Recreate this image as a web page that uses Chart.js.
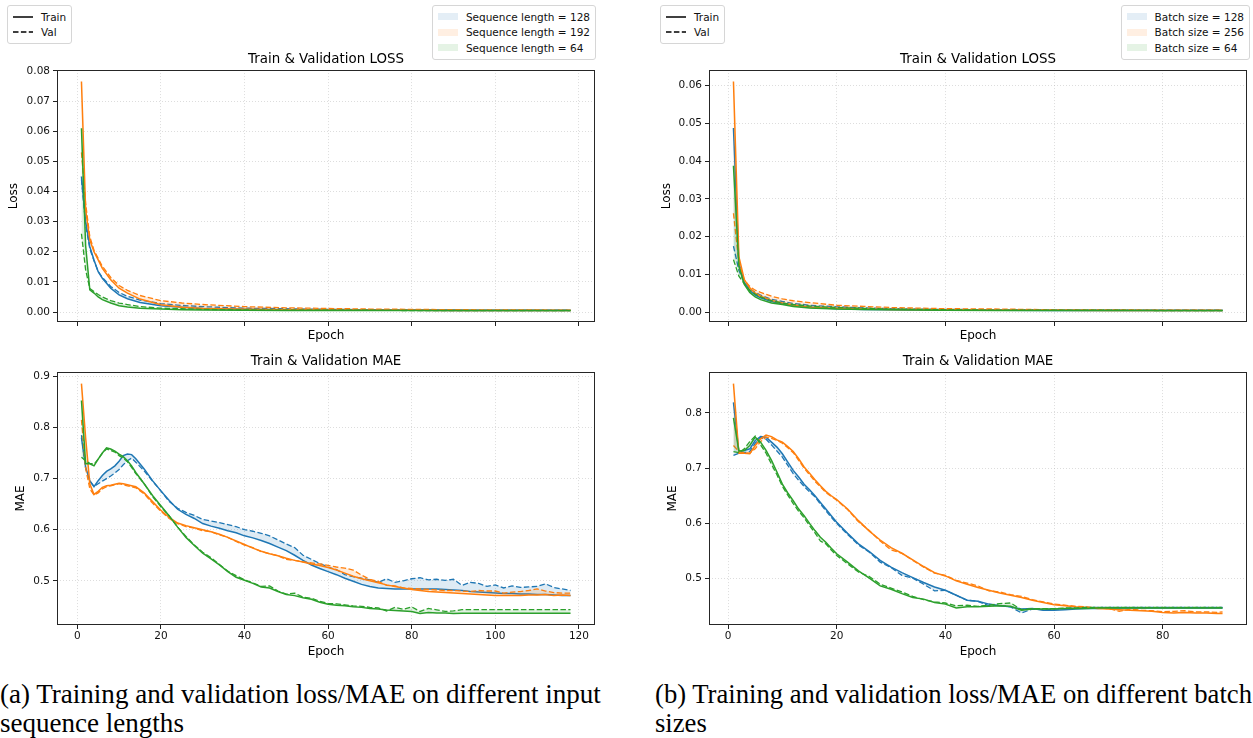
<!DOCTYPE html>
<html>
<head>
<meta charset="utf-8">
<script src="https://cdn.jsdelivr.net/npm/chart.js@4.4.0/dist/chart.umd.min.js"></script>
<style>
  body { margin:0; background:#fff; width:1253px; height:738px; overflow:hidden; position:relative; font-family:"DejaVu Sans", sans-serif; }
  canvas { position:absolute; }
  .legend { position:absolute; border:1px solid #d6d6d6; border-radius:3px; background:#fff; font-size:10.5px; color:#111; padding:3px 5px 3px 5px; box-sizing:border-box; }
  .legend .row { display:flex; align-items:center; height:15.5px; white-space:nowrap; }
  .legend .handle { width:20px; height:8px; margin-right:8px; display:flex; align-items:center; }
  .cap { position:absolute; font-family:"Liberation Serif", serif; color:#000; white-space:nowrap; line-height:29px; }
  .cap span { display:inline-block; }
</style>
</head>
<body>

<div id="legTrainA" class="legend" style="left:7px; top:5px;"></div>
<div id="legSeq" class="legend" style="right:657px; top:5px;"></div>
<div id="legTrainB" class="legend" style="left:660px; top:5px;"></div>
<div id="legBatch" class="legend" style="right:3px; top:5px;"></div>

<canvas id="lossA" width="600" height="292" style="left:0; top:51px;"></canvas>
<canvas id="maeA" width="600" height="306" style="left:0; top:353px;"></canvas>
<canvas id="lossB" width="601" height="292" style="left:652px; top:51px;"></canvas>
<canvas id="maeB" width="601" height="306" style="left:652px; top:353px;"></canvas>

<div class="cap" id="capA" style="left:0; top:680px;"><span id="capA1">(a) Training and validation loss/MAE on different input</span><br><span>sequence lengths</span></div>
<div class="cap" id="capB" style="left:655px; top:680px;"><span id="capB1">(b) Training and validation loss/MAE on different batch</span><br><span>sizes</span></div>

<script>
// ==============================
// Labels and ticks
// ==============================
const seqLabels = ["Sequence length = 128", "Sequence length = 192", "Sequence length = 64"];
const batchLabels = ["Batch size = 128", "Batch size = 256", "Batch size = 64"];
const styleLabels = ["Train", "Val"];

const epochTicksSeq = [0, 20, 40, 60, 80, 100, 120];
const epochTicksBatch = [0, 20, 40, 60, 80];
const lossTicksSeq = [0, 0.01, 0.02, 0.03, 0.04, 0.05, 0.06, 0.07, 0.08];
const maeTicksSeq = [0.5, 0.6, 0.7, 0.8, 0.9];
const lossTicksBatch = [0, 0.01, 0.02, 0.03, 0.04, 0.05, 0.06];
const maeTicksBatch = [0.5, 0.6, 0.7, 0.8];

// ==============================
// (a) sequence length - loss
// ==============================
const seqLossEpochs = [1,2,3,4,5,6,8,10,12,15,20,25,30,40,50,60,70,80,90,100,110,118];
const seqLossTrain128 = [0.045,0.030,0.0217,0.0173,0.0134,0.0112,0.0079,0.0057,0.0044,0.0032,0.0021,0.0016,0.0012,0.0009,0.0008,0.0007,0.0006,0.0006,0.0005,0.0005,0.0005,0.0005];
const seqLossVal128   = [0.044,0.029,0.021,0.0170,0.0135,0.0115,0.0085,0.0065,0.0052,0.0040,0.0028,0.0022,0.0018,0.0013,0.0011,0.0009,0.0008,0.0007,0.0007,0.0006,0.0006,0.0006];
const seqLossTrain192 = [0.0765,0.034,0.0239,0.020,0.0173,0.0145,0.0107,0.0079,0.0063,0.0043,0.0024,0.0016,0.0012,0.0009,0.0008,0.0007,0.0006,0.0006,0.0005,0.0005,0.0005,0.0005];
const seqLossVal192   = [0.053,0.036,0.025,0.0205,0.0178,0.0152,0.0115,0.0088,0.0072,0.0055,0.0038,0.0030,0.0025,0.0018,0.0014,0.0012,0.0010,0.0009,0.0008,0.0007,0.0007,0.0006];
const seqLossTrain64  = [0.061,0.022,0.0074,0.0063,0.0050,0.0041,0.0030,0.0021,0.0017,0.0013,0.0010,0.0008,0.0007,0.0006,0.0005,0.0005,0.0005,0.0005,0.0005,0.0005,0.0005,0.0005];
const seqLossVal64    = [0.026,0.014,0.0078,0.0068,0.0058,0.0050,0.0038,0.0030,0.0025,0.0018,0.0013,0.0011,0.0009,0.0007,0.0006,0.0006,0.0006,0.0005,0.0005,0.0005,0.0005,0.0005];

// ==============================
// (a) sequence length - MAE
// ==============================
const seqMaeEpochs = [1,2,3,4,5,6,7,8,9,10,11,12,13,14,
  16,18,20,22,24,26,28,30,32,34,36,38,40,42,44,46,48,50,52,54,56,
  58,60,62,64,66,68,70,72,74,76,78,80,82,84,86,88,90,92,94,96,98,
  100,102,104,106,108,110,112,114,116,118];
const seqMaeTrain128 = [0.780,0.722,0.696,0.684,0.696,0.706,0.714,0.719,0.725,0.734,0.745,0.748,0.747,0.739,
  0.719,0.696,0.676,0.657,0.640,0.630,0.622,0.612,0.607,0.603,0.598,0.594,0.588,0.584,0.579,0.573,0.566,0.559,0.550,0.540,0.531,
  0.524,0.518,0.512,0.505,0.499,0.493,0.489,0.486,0.485,0.484,0.484,0.484,0.484,0.484,0.484,0.483,0.482,0.481,0.479,0.478,0.477,
  0.476,0.475,0.475,0.474,0.474,0.473,0.473,0.472,0.471,0.471];
const seqMaeVal128 = [0.785,0.720,0.695,0.685,0.690,0.695,0.700,0.705,0.711,0.718,0.727,0.735,0.740,0.732,
  0.715,0.695,0.676,0.655,0.642,0.634,0.628,0.620,0.617,0.614,0.610,0.606,0.600,0.597,0.593,0.588,0.580,0.572,0.565,0.550,0.542,
  0.534,0.527,0.522,0.512,0.508,0.505,0.502,0.497,0.504,0.497,0.500,0.504,0.506,0.502,0.503,0.501,0.503,0.491,0.497,0.495,0.489,
  0.492,0.486,0.490,0.487,0.488,0.489,0.494,0.487,0.484,0.481];
const seqMaeTrain192 = [0.886,0.780,0.690,0.669,0.675,0.683,0.686,0.687,0.689,0.691,0.690,0.688,0.686,0.684,
  0.672,0.655,0.638,0.624,0.613,0.608,0.604,0.600,0.596,0.591,0.585,0.578,0.571,0.564,0.558,0.553,0.549,0.544,0.540,0.537,0.533,
  0.530,0.526,0.521,0.515,0.509,0.504,0.500,0.496,0.492,0.489,0.486,0.483,0.481,0.479,0.478,0.477,0.476,0.475,0.474,0.473,0.472,
  0.471,0.471,0.471,0.471,0.472,0.472,0.473,0.471,0.472,0.471];
const seqMaeVal192 = [0.815,0.720,0.680,0.668,0.672,0.680,0.684,0.686,0.688,0.690,0.688,0.686,0.684,0.682,
  0.670,0.652,0.636,0.622,0.612,0.606,0.603,0.598,0.596,0.590,0.585,0.577,0.570,0.565,0.557,0.553,0.549,0.542,0.540,0.537,0.535,
  0.533,0.530,0.527,0.525,0.521,0.511,0.503,0.499,0.491,0.490,0.486,0.485,0.484,0.483,0.482,0.481,0.481,0.480,0.479,0.481,0.480,
  0.480,0.476,0.478,0.479,0.481,0.484,0.480,0.477,0.476,0.476];
const seqMaeTrain64 = [0.853,0.729,0.729,0.725,0.738,0.750,0.760,0.758,0.754,0.748,0.743,0.735,0.725,0.712,
  0.690,0.667,0.647,0.627,0.605,0.585,0.569,0.554,0.543,0.531,0.518,0.507,0.501,0.495,0.488,0.486,0.479,0.473,0.471,0.467,0.464,
  0.458,0.454,0.452,0.451,0.449,0.448,0.446,0.445,0.443,0.442,0.441,0.440,0.436,0.438,0.437,0.437,0.436,0.4365,0.4365,0.4365,0.4365,
  0.4365,0.4365,0.4365,0.4365,0.4365,0.4365,0.4365,0.4365,0.4365,0.4365];
const seqMaeVal64 = [0.742,0.735,0.730,0.728,0.738,0.750,0.758,0.755,0.752,0.745,0.740,0.733,0.722,0.710,
  0.690,0.665,0.645,0.627,0.605,0.587,0.570,0.556,0.545,0.532,0.519,0.510,0.502,0.496,0.489,0.490,0.480,0.474,0.476,0.468,0.466,
  0.460,0.456,0.455,0.453,0.451,0.450,0.448,0.447,0.441,0.448,0.444,0.449,0.440,0.446,0.443,0.440,0.441,0.4435,0.4435,0.4435,0.4435,
  0.4435,0.4435,0.4435,0.4435,0.4435,0.4435,0.4435,0.4435,0.4435,0.4435];

// ==============================
// (b) batch size - loss
// ==============================
const batchLossEpochs = [1,2,3,4,5,6,8,10,12,15,20,25,30,40,50,60,70,80,91];
const batchLossTrain128 = [0.0488,0.0130,0.0078,0.0057,0.0045,0.0038,0.0028,0.0022,0.0018,0.0013,0.0009,0.0007,0.0006,0.0005,0.0005,0.0004,0.0004,0.0004,0.0004];
const batchLossVal128   = [0.0175,0.011,0.0078,0.0062,0.0052,0.0045,0.0034,0.0028,0.0023,0.0018,0.0014,0.0011,0.0009,0.0007,0.0006,0.0005,0.0005,0.0005,0.0005];
const batchLossTrain256 = [0.0611,0.0147,0.0086,0.0064,0.0050,0.0042,0.0031,0.0024,0.0019,0.0013,0.0010,0.0008,0.0007,0.0006,0.0005,0.0005,0.0004,0.0004,0.0004];
const batchLossVal256   = [0.0262,0.013,0.0085,0.0068,0.0058,0.0052,0.0042,0.0035,0.0030,0.0025,0.0018,0.0015,0.0012,0.0009,0.0008,0.0006,0.0006,0.0005,0.0005];
const batchLossTrain64  = [0.0388,0.0121,0.0073,0.0052,0.0040,0.0033,0.0024,0.0020,0.0015,0.0011,0.0008,0.0007,0.0006,0.0005,0.0004,0.0004,0.0004,0.0004,0.0004];
const batchLossVal64    = [0.0139,0.0095,0.0075,0.0058,0.0048,0.0040,0.0030,0.0024,0.0020,0.0016,0.0012,0.0010,0.0008,0.0006,0.0005,0.0005,0.0005,0.0004,0.0004];

// ==============================
// (b) batch size - MAE
// ==============================
const batchMaeEpochs = [1,2,3,4,5,6,7,8,9,10,
  11,12,13,14,15,16,17,18,19,20,
  22,24,26,28,30,32,34,36,38,40,42,44,46,48,50,52,54,56,58,60,
  62,64,66,68,70,72,74,76,78,80,82,84,86,88,90,91];
const batchMaeTrain128 = [0.819,0.729,0.732,0.735,0.750,0.757,0.756,0.747,0.738,0.726,
  0.711,0.696,0.684,0.671,0.661,0.650,0.638,0.626,0.614,0.602,
  0.582,0.563,0.549,0.533,0.521,0.511,0.502,0.493,0.485,0.479,0.470,0.461,0.459,0.454,0.451,0.449,0.445,0.446,0.443,0.443,
  0.444,0.445,0.446,0.446,0.447,0.447,0.447,0.447,0.447,0.447,0.447,0.447,0.447,0.447,0.447,0.447];
const batchMaeVal128 = [0.723,0.727,0.728,0.730,0.745,0.755,0.752,0.742,0.731,0.720,
  0.705,0.690,0.678,0.667,0.657,0.648,0.635,0.623,0.611,0.600,
  0.580,0.561,0.548,0.530,0.520,0.506,0.501,0.490,0.478,0.479,0.470,0.461,0.459,0.451,0.452,0.449,0.438,0.445,0.444,0.445,
  0.446,0.447,0.448,0.448,0.448,0.448,0.448,0.448,0.448,0.448,0.448,0.448,0.448,0.448,0.448,0.448];
const batchMaeTrain256 = [0.853,0.727,0.727,0.726,0.741,0.753,0.760,0.757,0.751,0.747,
  0.739,0.730,0.717,0.702,0.691,0.679,0.668,0.658,0.650,0.643,
  0.626,0.605,0.586,0.570,0.556,0.546,0.534,0.522,0.511,0.505,0.496,0.490,0.484,0.479,0.474,0.470,0.466,0.461,0.457,0.453,
  0.451,0.449,0.448,0.446,0.445,0.444,0.443,0.442,0.441,0.439,0.438,0.439,0.438,0.438,0.437,0.437];
const batchMaeVal256 = [0.741,0.730,0.728,0.727,0.735,0.748,0.756,0.754,0.750,0.745,
  0.737,0.728,0.714,0.700,0.688,0.676,0.666,0.656,0.649,0.642,
  0.625,0.603,0.587,0.568,0.552,0.546,0.533,0.521,0.510,0.506,0.497,0.492,0.487,0.478,0.476,0.471,0.468,0.462,0.458,0.454,
  0.452,0.450,0.449,0.447,0.446,0.441,0.445,0.443,0.442,0.440,0.441,0.442,0.440,0.440,0.439,0.440];
const batchMaeTrain64 = [0.791,0.731,0.732,0.741,0.756,0.747,0.732,0.714,0.693,0.671,
  0.655,0.641,0.626,0.614,0.600,0.587,0.575,0.566,0.555,0.545,
  0.530,0.514,0.501,0.487,0.481,0.473,0.466,0.463,0.457,0.454,0.447,0.449,0.449,0.450,0.451,0.450,0.443,0.445,0.445,0.445,
  0.446,0.446,0.446,0.447,0.447,0.447,0.447,0.447,0.447,0.447,0.447,0.447,0.447,0.447,0.447,0.447];
const batchMaeVal64 = [0.730,0.728,0.735,0.748,0.758,0.742,0.727,0.707,0.688,0.667,
  0.651,0.636,0.622,0.610,0.596,0.583,0.568,0.563,0.552,0.542,
  0.527,0.512,0.504,0.490,0.483,0.476,0.468,0.462,0.458,0.456,0.451,0.452,0.450,0.452,0.455,0.456,0.444,0.446,0.446,0.446,
  0.447,0.447,0.448,0.448,0.448,0.448,0.448,0.448,0.448,0.448,0.448,0.448,0.448,0.448,0.448,0.448];

// ==============================
// Colors (matplotlib tab10)
// ==============================
const BLUE = "31,119,180", ORANGE = "255,127,14", GREEN = "44,160,44";

// ==============================
// Legends
// ==============================
function buildStyleLegend(id) {
  const el = document.getElementById(id);
  el.innerHTML = styleLabels.map((lab, i) => `<div class="row"><div class="handle">
    <svg width="20" height="4"><line x1="0" y1="2" x2="20" y2="2" stroke="#000" stroke-width="1.5" ${i ? 'stroke-dasharray="5.5,2.4"' : ''}/></svg>
    </div>${lab}</div>`).join("");
}
function buildColorLegend(id, labels) {
  const cols = [BLUE, ORANGE, GREEN];
  document.getElementById(id).innerHTML = labels.map((lab, i) =>
    `<div class="row"><div class="handle"><div style="width:20px;height:7px;background:rgba(${cols[i]},0.12)"></div></div>${lab}</div>`).join("");
}
buildStyleLegend("legTrainA");
buildStyleLegend("legTrainB");
buildColorLegend("legSeq", seqLabels);
buildColorLegend("legBatch", batchLabels);

// ==============================
// Chart helpers
// ==============================
const frame = {
  id: "frame",
  afterDatasetsDraw(c) {
    const { ctx, chartArea: a } = c;
    ctx.save();
    ctx.strokeStyle = "#262626";
    ctx.lineWidth = 1;
    ctx.strokeRect(Math.round(a.left) + 0.5, Math.round(a.top) + 0.5, Math.round(a.right - a.left) - 1, Math.round(a.bottom - a.top) - 1);
    ctx.restore();
  }
};

function pts(epochs, vals) { return epochs.map((e, i) => ({ x: e, y: vals[i] })); }

// matplotlib-like autoscale: data extent plus 5% margins
function extent(list) {
  const all = list.flat(3);
  const lo = Math.min(...all), hi = Math.max(...all);
  const m = (hi - lo) * 0.05;
  return [lo - m, hi + m];
}

function makeDatasets(epochs, series) {
  // series: [[rgb, train, val], ...] - drawn so the last one ends on top
  const ds = [];
  series.slice().reverse().forEach(([rgb, tr, va]) => {
    const i = ds.length;
    ds.push({ data: pts(epochs, tr), borderColor: `rgb(${rgb})`, borderWidth: 1.5, pointRadius: 0, tension: 0,
              fill: { target: i + 1, above: `rgba(${rgb},0.15)`, below: `rgba(${rgb},0.15)` } });
    ds.push({ data: pts(epochs, va), borderColor: `rgb(${rgb})`, borderWidth: 1.3, borderDash: [5.5, 2.4], pointRadius: 0, tension: 0, fill: false });
  });
  return ds;
}

function makeChart(id, cfg) {
  const xr = extent([cfg.epochs]);
  const yr = extent(cfg.series.map(s => [s[1], s[2]]));
  const tickFont = { family: "DejaVu Sans", size: 10.5 };
  const labFont = { family: "DejaVu Sans", size: 12, weight: "normal" };
  const titleFont = { family: "DejaVu Sans", size: 13.4, weight: "normal" };
  const grid = { color: "rgba(176,176,176,0.55)", lineWidth: 0.8, tickColor: "#222", tickLength: 4, tickWidth: 1 };
  return new Chart(document.getElementById(id), {
    type: "line",
    data: { datasets: makeDatasets(cfg.epochs, cfg.series) },
    options: {
      responsive: false, animation: false, devicePixelRatio: 1,
      layout: { padding: { left: 0, right: cfg.padRight, top: 0, bottom: 0 } },
      plugins: {
        legend: { display: false }, tooltip: { enabled: false },
        title: { display: true, fullSize: false, text: cfg.title, color: "#000", font: titleFont, padding: { top: 0, bottom: 3 } }
      },
      scales: {
        x: {
          type: "linear", min: xr[0], max: xr[1],
          grid, border: { display: false, dash: [1, 2] },
          afterBuildTicks: s => { s.ticks = cfg.xTicks.map(v => ({ value: v })); },
          afterFit: s => { s.height = cfg.xHeight; },
          ticks: { autoSkip: false, maxRotation: 0, padding: 1, color: "#111", font: tickFont,
                   callback: v => cfg.xLabels ? String(v) : "" },
          title: { display: true, text: "Epoch", color: "#000", font: labFont, padding: { top: 0, bottom: 0 } }
        },
        y: {
          type: "linear", min: yr[0], max: yr[1],
          grid, border: { display: false, dash: [1, 2] },
          afterBuildTicks: s => { s.ticks = cfg.yTicks.map(v => ({ value: v })); },
          afterFit: s => { s.width = 57; },
          ticks: { autoSkip: false, padding: 3, color: "#111", font: tickFont, callback: v => v.toFixed(cfg.yDec) },
          title: { display: true, text: cfg.yTitle, color: "#000", font: labFont, padding: { top: cfg.yTitlePad, bottom: 0 } }
        }
      }
    },
    plugins: [frame]
  });
}

// ==============================
// Charts
// ==============================
makeChart("lossA", {
  title: "Train & Validation LOSS", yTitle: "Loss", yTitlePad: 7, yDec: 2, padRight: 5, xHeight: 21,
  epochs: seqLossEpochs, xTicks: epochTicksSeq, yTicks: lossTicksSeq, xLabels: false,
  series: [[BLUE, seqLossTrain128, seqLossVal128], [ORANGE, seqLossTrain192, seqLossVal192], [GREEN, seqLossTrain64, seqLossVal64]]
});
makeChart("maeA", {
  title: "Train & Validation MAE", yTitle: "MAE", yTitlePad: 14, yDec: 1, padRight: 5, xHeight: 34,
  epochs: seqMaeEpochs, xTicks: epochTicksSeq, yTicks: maeTicksSeq, xLabels: true,
  series: [[BLUE, seqMaeTrain128, seqMaeVal128], [ORANGE, seqMaeTrain192, seqMaeVal192], [GREEN, seqMaeTrain64, seqMaeVal64]]
});
makeChart("lossB", {
  title: "Train & Validation LOSS", yTitle: "Loss", yTitlePad: 8, yDec: 2, padRight: 6, xHeight: 21,
  epochs: batchLossEpochs, xTicks: epochTicksBatch, yTicks: lossTicksBatch, xLabels: false,
  series: [[BLUE, batchLossTrain128, batchLossVal128], [ORANGE, batchLossTrain256, batchLossVal256], [GREEN, batchLossTrain64, batchLossVal64]]
});
makeChart("maeB", {
  title: "Train & Validation MAE", yTitle: "MAE", yTitlePad: 14, yDec: 1, padRight: 6, xHeight: 34,
  epochs: batchMaeEpochs, xTicks: epochTicksBatch, yTicks: maeTicksBatch, xLabels: true,
  series: [[BLUE, batchMaeTrain128, batchMaeVal128], [ORANGE, batchMaeTrain256, batchMaeVal256], [GREEN, batchMaeTrain64, batchMaeVal64]]
});

// ==============================
// Caption sizing: fit first line to its width in the figure
// ==============================
function fitCaption(capId, lineId, target) {
  const cap = document.getElementById(capId), line = document.getElementById(lineId);
  cap.style.fontSize = "22px";
  const w = line.getBoundingClientRect().width;
  cap.style.fontSize = (22 * target / w).toFixed(2) + "px";
}
fitCaption("capA", "capA1", 601);
fitCaption("capB", "capB1", 597);
</script>
</body>
</html>
